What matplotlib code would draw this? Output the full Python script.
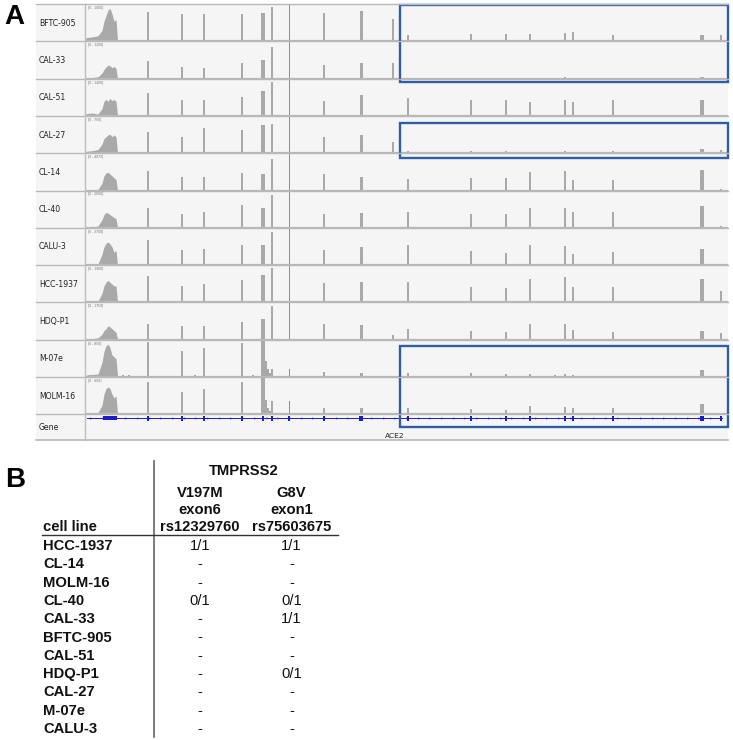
import matplotlib
matplotlib.use("Agg")
import matplotlib.pyplot as plt
from matplotlib.patches import Rectangle
import numpy as np

W, H = 733, 740

# ---------------- Panel A data ----------------
tracks = ["BFTC-905", "CAL-33", "CAL-51", "CAL-27", "CL-14", "CL-40",
          "CALU-3", "HCC-1937", "HDQ-P1", "M-07e", "MOLM-16"]
ranges = ["[0 - 1000]", "[0 - 1200]", "[0 - 1400]", "[0 - 750]", "[0 - 4073]",
          "[0 - 2000]", "[0 - 3700]", "[0 - 1900]", "[0 - 1750]", "[0 - 850]", "[0 - 600]"]

# genomic position (relative units) of coverage peaks / exons
peak_pos = [63, 97, 119, 157, 178, 187, 204, 239, 276, 308,
            323, 386, 421, 445, 480, 488, 528, 617, 636]
peak_width = [2.8, 2.6, 2.6, 2.4, 4.0, 2.4, 1.0, 2.6, 3.0, 2.4,
              2.6, 2.2, 2.2, 2.2, 2.6, 2.2, 2.6, 3.8, 2.6]

heights = {
    "BFTC-905": [0.81, 0.74, 0.75, 0.74, 0.78, 0.94, 1.00, 0.78, 0.83, 0.60,
                 0.18, 0.20, 0.20, 0.19, 0.23, 0.25, 0.18, 0.18, 0.18],
    "CAL-33":   [0.49, 0.33, 0.30, 0.44, 0.51, 0.86, 1.00, 0.37, 0.44, 0.42,
                 0.03, 0.02, 0.03, 0.03, 0.04, 0.03, 0.02, 0.05, 0.03],
    "CAL-51":   [0.63, 0.44, 0.44, 0.51, 0.69, 0.92, 1.00, 0.42, 0.56, 0.03,
                 0.50, 0.43, 0.44, 0.38, 0.44, 0.38, 0.43, 0.44, 0.03],
    "CAL-27":   [0.58, 0.44, 0.68, 0.63, 0.77, 0.81, 1.00, 0.44, 0.51, 0.31,
                 0.05, 0.07, 0.05, 0.04, 0.05, 0.04, 0.07, 0.12, 0.08],
    "CL-14":    [0.54, 0.37, 0.37, 0.47, 0.45, 0.87, 1.00, 0.45, 0.38, 0.00,
                 0.32, 0.35, 0.33, 0.50, 0.54, 0.30, 0.28, 0.56, 0.05],
    "CL-40":    [0.54, 0.37, 0.44, 0.63, 0.54, 0.90, 1.00, 0.38, 0.40, 0.00,
                 0.42, 0.37, 0.37, 0.55, 0.55, 0.42, 0.42, 0.60, 0.05],
    "CALU-3":   [0.68, 0.40, 0.44, 0.54, 0.54, 0.91, 1.00, 0.40, 0.49, 0.00,
                 0.55, 0.38, 0.34, 0.55, 0.53, 0.29, 0.35, 0.44, 0.03],
    "HCC-1937": [0.72, 0.46, 0.51, 0.60, 0.74, 0.93, 1.00, 0.54, 0.56, 0.04,
                 0.56, 0.43, 0.40, 0.65, 0.70, 0.43, 0.43, 0.65, 0.30],
    "HDQ-P1":   [0.44, 0.37, 0.37, 0.49, 0.56, 0.91, 1.00, 0.44, 0.39, 0.13,
                 0.30, 0.23, 0.21, 0.42, 0.42, 0.26, 0.20, 0.23, 0.19],
    "M-07e":    [0.95, 0.72, 0.78, 0.92, 1.00, 0.22, 0.22, 0.15, 0.12, 0.03,
                 0.10, 0.12, 0.07, 0.08, 0.08, 0.06, 0.04, 0.20, 0.04],
    "MOLM-16":  [0.89, 0.61, 0.68, 0.89, 1.00, 0.36, 0.37, 0.16, 0.16, 0.00,
                 0.17, 0.14, 0.11, 0.22, 0.20, 0.16, 0.16, 0.27, 0.02],
}

# 5' region broad coverage hump
hump_x = [1, 7, 13, 17, 19, 21, 23, 25, 27, 29, 31, 32.5]
hump = {
    "BFTC-905": [0.10, 0.12, 0.15, 0.30, 0.55, 0.70, 0.85, 0.90, 0.75, 0.55, 0.60, 0.05],
    "CAL-33":   [0.02, 0.03, 0.05, 0.15, 0.25, 0.32, 0.37, 0.35, 0.30, 0.33, 0.28, 0.02],
    "CAL-51":   [0.06, 0.08, 0.05, 0.20, 0.40, 0.45, 0.40, 0.48, 0.42, 0.45, 0.40, 0.02],
    "CAL-27":   [0.05, 0.07, 0.10, 0.25, 0.40, 0.45, 0.50, 0.52, 0.45, 0.50, 0.45, 0.02],
    "CL-14":    [0.01, 0.01, 0.03, 0.20, 0.40, 0.48, 0.50, 0.45, 0.40, 0.35, 0.30, 0.02],
    "CL-40":    [0.01, 0.02, 0.05, 0.22, 0.36, 0.42, 0.40, 0.36, 0.32, 0.28, 0.25, 0.02],
    "CALU-3":   [0.01, 0.02, 0.03, 0.30, 0.50, 0.60, 0.63, 0.58, 0.50, 0.35, 0.40, 0.02],
    "HCC-1937": [0.01, 0.02, 0.03, 0.25, 0.45, 0.55, 0.60, 0.55, 0.50, 0.45, 0.45, 0.02],
    "HDQ-P1":   [0.02, 0.03, 0.05, 0.15, 0.25, 0.30, 0.38, 0.35, 0.30, 0.25, 0.20, 0.02],
    "M-07e":    [0.05, 0.07, 0.08, 0.40, 0.70, 0.85, 0.90, 0.80, 0.60, 0.55, 0.50, 0.05],
    "MOLM-16":  [0.03, 0.03, 0.05, 0.25, 0.55, 0.70, 0.75, 0.70, 0.55, 0.45, 0.50, 0.03],
}

# decaying tail after the exon at 178 (M-07e, MOLM-16)
tail_pos = [181, 183, 185]
tail = {"M-07e": [0.45, 0.22, 0.10], "MOLM-16": [0.40, 0.18, 0.08]}

# low background noise in M-07e
noise_pos = [5, 11, 38, 44, 52, 70, 88, 110, 128, 140, 168, 212, 228, 256,
             292, 315, 336, 362, 398, 452, 470, 510, 560, 592]
noise_h = [0.05, 0.04, 0.06, 0.05, 0.03, 0.04, 0.03, 0.05, 0.04, 0.03, 0.05, 0.04,
           0.03, 0.04, 0.04, 0.05, 0.03, 0.03, 0.04, 0.03, 0.05, 0.03, 0.04, 0.03]

# gene model (ACE2)
utr_block = (18, 32)
exons = [63, 97, 119, 157, 178, 187, 204, 239, 276,
         323, 386, 421, 445, 480, 488, 528, 617, 636]
exon_w = [2.4, 2.2, 2.2, 1.8, 2.8, 2.2, 1.8, 2.2, 3.2,
          2.6, 2.2, 2.2, 2.2, 2.6, 2.2, 2.6, 4.2, 2.6]

# ---------------- Panel B data ----------------
cell_lines = ["HCC-1937", "CL-14", "MOLM-16", "CL-40", "CAL-33", "BFTC-905",
              "CAL-51", "HDQ-P1", "CAL-27", "M-07e", "CALU-3"]
v197m = ["1/1", "-", "-", "0/1", "-", "-", "-", "-", "-", "-", "-"]
g8v = ["1/1", "-", "-", "0/1", "1/1", "-", "-", "0/1", "-", "-", "-"]

# ---------------- drawing ----------------
fig = plt.figure(figsize=(W / 100, H / 100), dpi=100)
fig.patch.set_facecolor("white")


def px_axes(x, y, w, h, **kw):
    return fig.add_axes([x / W, 1 - (y + h) / H, w / W, h / H], **kw)


BG = "#f5f5f5"
GREY = "#a9a9a9"
SEP = "#b8b8b8"
X0, X1 = 85, 728
XR = X1 - X0
TOP = 4
TH = 37.3

# background panel including label column
bg = px_axes(36, TOP, X1 - 36, 440 - TOP)
bg.set_facecolor(BG)
bg.set_xticks([]); bg.set_yticks([])
for s in bg.spines.values():
    s.set_visible(False)

for i, name in enumerate(tracks):
    ytop = TOP + i * TH
    ax = px_axes(X0, ytop, XR, TH)
    ax.set_facecolor(BG)
    ax.set_xlim(0, XR)
    ax.set_ylim(0, 1.02)
    ax.set_xticks([]); ax.set_yticks([])
    for s in ax.spines.values():
        s.set_visible(False)
    ax.fill_between(hump_x, hump[name], 0, color=GREY, lw=0)
    h = heights[name]
    for p, hh, ww in zip(peak_pos, h, peak_width):
        c = "#8f8f8f" if ww < 1.5 else GREY
        ax.bar(p, hh, width=ww, color=c, lw=0)
    if name in tail:
        ax.bar(tail_pos, tail[name], width=2.0, color=GREY, lw=0)
    if name == "M-07e":
        ax.bar(noise_pos, noise_h, width=2.0, color=GREY, lw=0)
    ax.axhline(0.0, color=SEP, lw=1.6, zorder=5)
    ax.text(3, 0.93, ranges[i], fontsize=2.2, color="#666666",
            va="center", ha="left")

# gene track
gax = px_axes(X0, TOP + 11 * TH, XR, 440 - (TOP + 11 * TH))
gax.set_facecolor(BG)
gax.set_xlim(0, XR)
gax.set_ylim(26, 0)
gax.set_xticks([]); gax.set_yticks([])
for s in gax.spines.values():
    s.set_visible(False)
BLUE = "#1c1ccc"
gax.plot([2, 637], [4, 4], color=BLUE, lw=0.7)
chev = np.arange(6, 636, 11.7)
gax.plot(chev, np.full_like(chev, 4.0), ls="none", marker=">", ms=1.6,
         color=BLUE, mew=0)
gax.add_patch(Rectangle((utr_block[0], 2.0), utr_block[1] - utr_block[0], 4.0,
                        color=BLUE, lw=0))
for e, ew in zip(exons, exon_w):
    gax.add_patch(Rectangle((e - ew / 2, 1.3), ew, 5.4, color=BLUE, lw=0))

# overlay for separators, labels, boxes, table
ov = fig.add_axes([0, 0, 1, 1], zorder=10)
ov.set_xlim(0, W)
ov.set_ylim(H, 0)
ov.axis("off")
ov.patch.set_alpha(0)

for i in range(12):
    y = TOP + i * TH
    ov.plot([36, X1], [y, y], color=SEP, lw=1.0)
ov.plot([36, X1], [440, 440], color=SEP, lw=1.2)
ov.plot([X0, X0], [TOP, 440], color="#bdbdbd", lw=1.0)

for i, name in enumerate(tracks):
    ov.text(39, TOP + i * TH + TH / 2 + 0.5, name, fontsize=5.6,
            va="center", ha="left", color="#222222")
ov.text(39, 427, "Gene", fontsize=5.6, va="center", ha="left", color="#222222")
ov.text(395, 435.5, "ACE2", fontsize=5.4, va="center", ha="center", color="#222222")

BOX = "#2f5ea5"
for (bx, by, bw, bh) in [(399.5, 4.5, 328, 77.5), (399.5, 122.5, 328, 35),
                         (399.5, 345.5, 328, 81.5)]:
    ov.add_patch(Rectangle((bx, by), bw, bh, fill=False, ec=BOX, lw=1.7))

ov.text(4, 17, "A", fontsize=20, fontweight="bold", va="center", ha="left",
        family="Liberation Sans")
ov.text(5, 480, "B", fontsize=20, fontweight="bold", va="center", ha="left",
        family="Liberation Sans")

# ---------------- table (panel B) ----------------
FS = 10.6
FAM = "Liberation Sans"
ov.plot([153.5, 153.5], [461, 737], color="#666666", lw=1.2)
ov.plot([42, 338], [535, 535], color="#333333", lw=1.0)
ov.text(244, 471, "TMPRSS2", fontsize=FS, fontweight="bold", ha="center",
        va="center", family=FAM, color="#111111")
c1, c2 = 200, 291.5
for txt, y in [("V197M", 493), ("exon6", 510), ("rs12329760", 527)]:
    ov.text(c1, y, txt, fontsize=FS, fontweight="bold", ha="center", va="center",
            family=FAM, color="#111111")
for txt, y in [("G8V", 493), ("exon1", 510), ("rs75603675", 527)]:
    ov.text(c2, y, txt, fontsize=FS, fontweight="bold", ha="center", va="center",
            family=FAM, color="#111111")
ov.text(43, 527, "cell line", fontsize=FS, fontweight="bold", ha="left",
        va="center", family=FAM, color="#111111")
for i, (cl, a, b) in enumerate(zip(cell_lines, v197m, g8v)):
    y = 546 + i * 18.3
    ov.text(43, y, cl, fontsize=FS, fontweight="bold", ha="left", va="center",
            family=FAM, color="#111111")
    ov.text(c1, y, a, fontsize=FS, ha="center", va="center", family=FAM,
            color="#111111")
    ov.text(c2, y, b, fontsize=FS, ha="center", va="center", family=FAM,
            color="#111111")

fig.savefig("out.png", dpi=100, facecolor="white")
